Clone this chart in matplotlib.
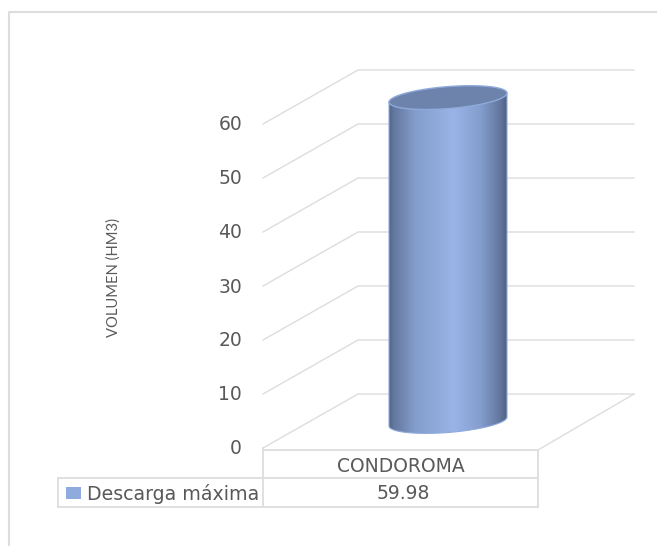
import numpy as np
import matplotlib
matplotlib.use("Agg")
import matplotlib.pyplot as plt
from matplotlib.colors import LinearSegmentedColormap
from matplotlib.patches import PathPatch, Rectangle
from matplotlib.path import Path

# Chart data
categories = ["CONDOROMA"]
series_name = "Descarga máxima"
values = [59.98]
y_ticks = [0, 10, 20, 30, 40, 50, 60]
y_label = "VOLUMEN (HM3)"

# Layout, x is in pixels and y is in axis units
W, H = 657, 546
Y0_PX = 448
PX_PER_UNIT = 5.4
DEPTH_X, DEPTH_UNITS = 95, 10
FRONT_L, FRONT_R = 263, 538
BACK_R = 634
CYL_L, CYL_R = 389, 507
CYL_TILT, CYL_B = 4.5, 11

GRID = "#dddddd"
TEXT = "#595959"
FONT = "DejaVu Sans"


def px(n):
    # pixel distance expressed in axis units
    return n / PX_PER_UNIT


fig = plt.figure(figsize=(W / 100, H / 100), dpi=100)
ax = fig.add_axes([0, 0, 1, 1])
ax.axis("off")

# Back wall and side wall gridlines
for t in y_ticks:
    ax.plot([FRONT_L, FRONT_L + DEPTH_X, BACK_R], [t, t + DEPTH_UNITS, t + DEPTH_UNITS],
            color=GRID, lw=1.0, zorder=1, solid_joinstyle="miter")
    ax.text(FRONT_L - 21, t - px(1), str(t), ha="right", va="center", fontsize=13.5,
            color=TEXT, family=FONT)

# Floor
ax.plot([FRONT_R, BACK_R], [px(-2), DEPTH_UNITS], color=GRID, lw=1.0, zorder=1)

# Table below the floor
row1, row2, row3 = px(-2), px(-30), px(-59)
LEG_L = 58
table_lines = [
    ([FRONT_L, FRONT_R], [row1, row1]),
    ([LEG_L, FRONT_R], [row2, row2]),
    ([LEG_L, FRONT_R], [row3, row3]),
    ([FRONT_L, FRONT_L], [0, row3]),
    ([FRONT_R, FRONT_R], [row1, row3]),
    ([LEG_L, LEG_L], [row2, row3]),
]
for xs, ys in table_lines:
    ax.plot(xs, ys, color=GRID, lw=1.3, zorder=1)

cx_table = (FRONT_L + FRONT_R) / 2
ax.text(cx_table, (row1 + row2) / 2 - px(3), categories[0], ha="center", va="center",
        fontsize=13.5, color=TEXT, family=FONT)
ax.text(cx_table + 3, (row2 + row3) / 2 - px(1), f"{values[0]:.2f}", ha="center", va="center",
        fontsize=13.5, color=TEXT, family=FONT)
ax.add_patch(Rectangle((66, px(-51)), 15, px(12), facecolor="#8faadc", edgecolor="none", zorder=2))
ax.text(87, (row2 + row3) / 2 - px(1), series_name, ha="left", va="center",
        fontsize=13.7, color=TEXT, family=FONT)

# Axis title
ax.text(114, px(Y0_PX - 277), y_label, rotation=90, ha="center", va="center",
        fontsize=10.6, color=TEXT, family="Lato")

# Cylinder
cx = (CYL_L + CYL_R) / 2
a = (CYL_R - CYL_L) / 2
base = px(26.5)
top = base + values[0]


def rim(y_c, t):
    return cx + a * np.cos(t), y_c + px(CYL_TILT * np.cos(t) + CYL_B * np.sin(t))


tt = np.linspace(0, 2 * np.pi, 120)
t_front = np.linspace(np.pi, 2 * np.pi, 60)

bx, by = rim(base, t_front)
body_pts = np.vstack([[cx - a, top - px(CYL_TILT)], np.column_stack([bx, by]), [cx + a, top + px(CYL_TILT)]])
body_path = Path(np.vstack([body_pts, body_pts[0]]), closed=True)

stops = [(0.0, "#52658a"), (0.04, "#64789f"), (0.22, "#839dcb"), (0.55, "#9ab4e8"),
         (0.78, "#839dcd"), (0.94, "#64789f"), (1.0, "#506184")]
cmap = LinearSegmentedColormap.from_list("cyl", stops)
grad = np.linspace(0, 1, 256).reshape(1, -1)
im = ax.imshow(grad, cmap=cmap, extent=[CYL_L, CYL_R, base - px(CYL_B + 6), top + px(5)],
               aspect="auto", zorder=3, interpolation="bilinear")
patch = PathPatch(body_path, facecolor="none", edgecolor="#8eaadb", lw=0.8, zorder=4)
ax.add_patch(patch)
im.set_clip_path(patch)

tx, ty = rim(top, tt)
ax.fill(tx, ty, facecolor="#6d83ac", edgecolor="#8eaadb", lw=1.0, zorder=5)

# Outer chart frame, left and top only
ax.plot([9, 9, W], [px(Y0_PX - H), px(Y0_PX - 12), px(Y0_PX - 12)], color=GRID, lw=1.5, zorder=1)

ax.set_xlim(0, W)
ax.set_ylim(px(Y0_PX - H), px(Y0_PX))

fig.savefig("out.png", dpi=100, facecolor="white")
